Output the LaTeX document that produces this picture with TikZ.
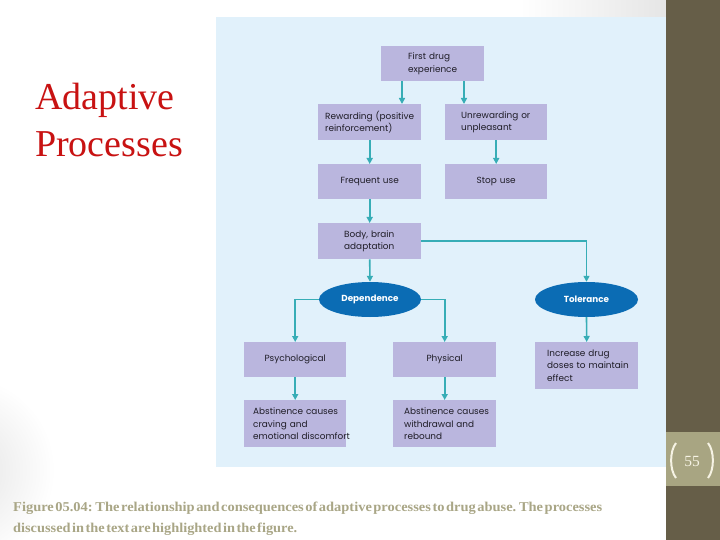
\documentclass[tikz,border=0pt]{standalone}
\usepackage{fontspec}
\usepackage{graphicx}
\setmainfont{Liberation Serif}
\newfontfamily\boxfont{Poppins}
\usetikzlibrary{arrows.meta,shapes.geometric}
\definecolor{panel}{HTML}{E1F1FB}
\definecolor{boxfill}{HTML}{BAB6DE}
\definecolor{boxtext}{HTML}{1E1C26}
\definecolor{ellblue}{HTML}{0B6CB4}
\definecolor{arrowc}{HTML}{37ADB6}
\definecolor{titlered}{HTML}{C81212}
\definecolor{capcol}{HTML}{A9A686}
\definecolor{barcol}{HTML}{665E48}
\definecolor{bandcol}{HTML}{A8A582}
\definecolor{pagenum}{HTML}{F6F3E4}
\newcommand{\captionline}[3]{\resizebox{#1}{#2}{\fontsize{13}{13}\selectfont\bfseries\spaceskip=1.4pt\relax #3}}
\newcommand{\bxl}[1]{\mbox{#1}}
\tikzset{
  box/.style={fill=boxfill, text=boxtext, anchor=north west, inner ysep=0pt,
    align=left, font=\boxfont\fontsize{8.9}{12.5}\selectfont},
  cbox/.style={box, align=center},
  ell/.style={ellipse, fill=ellblue, text=white, inner sep=0pt,
    font=\boxfont\bfseries\fontsize{8.8}{10}\selectfont},
  arr/.style={draw=arrowc, line width=1.6pt, -{Triangle[length=6pt,width=6pt]}},
  titletext/.style={font=\fontsize{38}{40}\selectfont, text=titlered, inner sep=0pt, anchor=base west},
  captext/.style={text=capcol, inner sep=0pt, anchor=base west}
}
\begin{document}
\begin{tikzpicture}[x=1pt,y=-1pt]
\useasboundingbox (0,0) rectangle (720,540);
\fill[white] (0,0) rectangle (720,540);
% soft background shading
\shade[left color=white, right color=black!10] (520,0) rectangle (666,17);
\shade[inner color=black!11, outer color=white] (-40,470) circle (95);
% panel
\fill[panel] (216,17) rectangle (666,467);
% right bar
\fill[barcol] (666,0) rectangle (720,540);
\fill[bandcol] (666,432) rectangle (720,486);
\node[text=pagenum, font=\fontsize{15.5}{15.5}\selectfont, inner sep=0pt] (pg) at (692,461) {55};
\draw[pagenum, line width=2pt] (676,443) .. controls (669.5,451) and (669.5,470) .. (676,478);
\draw[pagenum, line width=2pt] (708,443) .. controls (714.5,451) and (714.5,470) .. (708,478);
% title
\node[titletext] (t1) at (35,110) {Adaptive};
\node[titletext] (t2) at (35,157) {Processes};
% caption
\node[captext] (c1) at (13,511) {\captionline{589pt}{9.5pt}{Figure 05.04: The relationship and consequences of adaptive processes to drug abuse. The processes}};
\node[captext] (c2) at (13,532) {\captionline{284pt}{9.5pt}{discussed in the text are highlighted in the figure.}};
% boxes
\node[box, minimum width=103pt, minimum height=35pt, text width=49pt, inner xsep=27pt] (fde) at (381,46) {\bxl{First drug}\\\bxl{experience}};
\node[box, minimum width=103pt, minimum height=36pt, text width=89pt, inner xsep=7pt] (rew) at (318,104) {\bxl{Rewarding (positive}\\\bxl{reinforcement)}};
\node[box, minimum width=102pt, minimum height=36pt, text width=70pt, inner xsep=16pt] (unr) at (445,104) {\bxl{Unrewarding or}\\\bxl{unpleasant}};
\node[cbox, minimum width=103pt, minimum height=35pt, text width=95pt, inner xsep=4pt] (freq) at (318,164) {Frequent use};
\node[cbox, minimum width=102pt, minimum height=35pt, text width=94pt, inner xsep=4pt] (stop) at (445,164) {Stop use};
\node[box, minimum width=103pt, minimum height=36pt, text width=51pt, inner xsep=26pt] (body) at (318,223) {\bxl{Body, brain}\\\bxl{adaptation}};
\node[ell, minimum width=102pt, minimum height=35pt] (dep) at (370,299.5) {Dependence};
\node[ell, minimum width=103pt, minimum height=35pt] (tol) at (586.5,299.5) {Tolerance};
\node[cbox, minimum width=102pt, minimum height=35pt, text width=94pt, inner xsep=4pt] (psy) at (244,342) {Psychological};
\node[cbox, minimum width=103pt, minimum height=35pt, text width=95pt, inner xsep=4pt] (phy) at (393,342) {Physical};
\node[box, minimum width=103pt, minimum height=47pt, text width=79pt, inner xsep=12pt] (inc) at (535,342) {\bxl{Increase drug}\\\bxl{doses to maintain}\\\bxl{effect}};
\node[box, minimum width=102pt, minimum height=47pt, text width=84pt, inner xsep=9pt] (ab1) at (244,400) {\bxl{Abstinence causes}\\\bxl{craving and}\\\bxl{emotional discomfort}};
\node[box, minimum width=103pt, minimum height=47pt, text width=81pt, inner xsep=11pt] (ab2) at (393,400) {\bxl{Abstinence causes}\\\bxl{withdrawal and}\\\bxl{rebound}};
% connectors
\draw[arr] ([xshift=21pt]fde.south west) -- ([xshift=21pt]fde.south west |- rew.north);
\draw[arr] ([xshift=83pt]fde.south west) -- ([xshift=83pt]fde.south west |- unr.north);
\draw[arr] (rew.south) -- (freq.north);
\draw[arr] (unr.south) -- (stop.north);
\draw[arr] (freq.south) -- (body.north);
\draw[arr] (body.south) -- (dep.north);
\draw[arr] (body.east) -| (tol.north);
\draw[arr] (dep.west) -| (psy.north);
\draw[arr] (dep.east) -| (phy.north);
\draw[arr] (tol.south) -- (inc.north);
\draw[arr] (psy.south) -- (ab1.north);
\draw[arr] (phy.south) -- (ab2.north);
\end{tikzpicture}
\end{document}
